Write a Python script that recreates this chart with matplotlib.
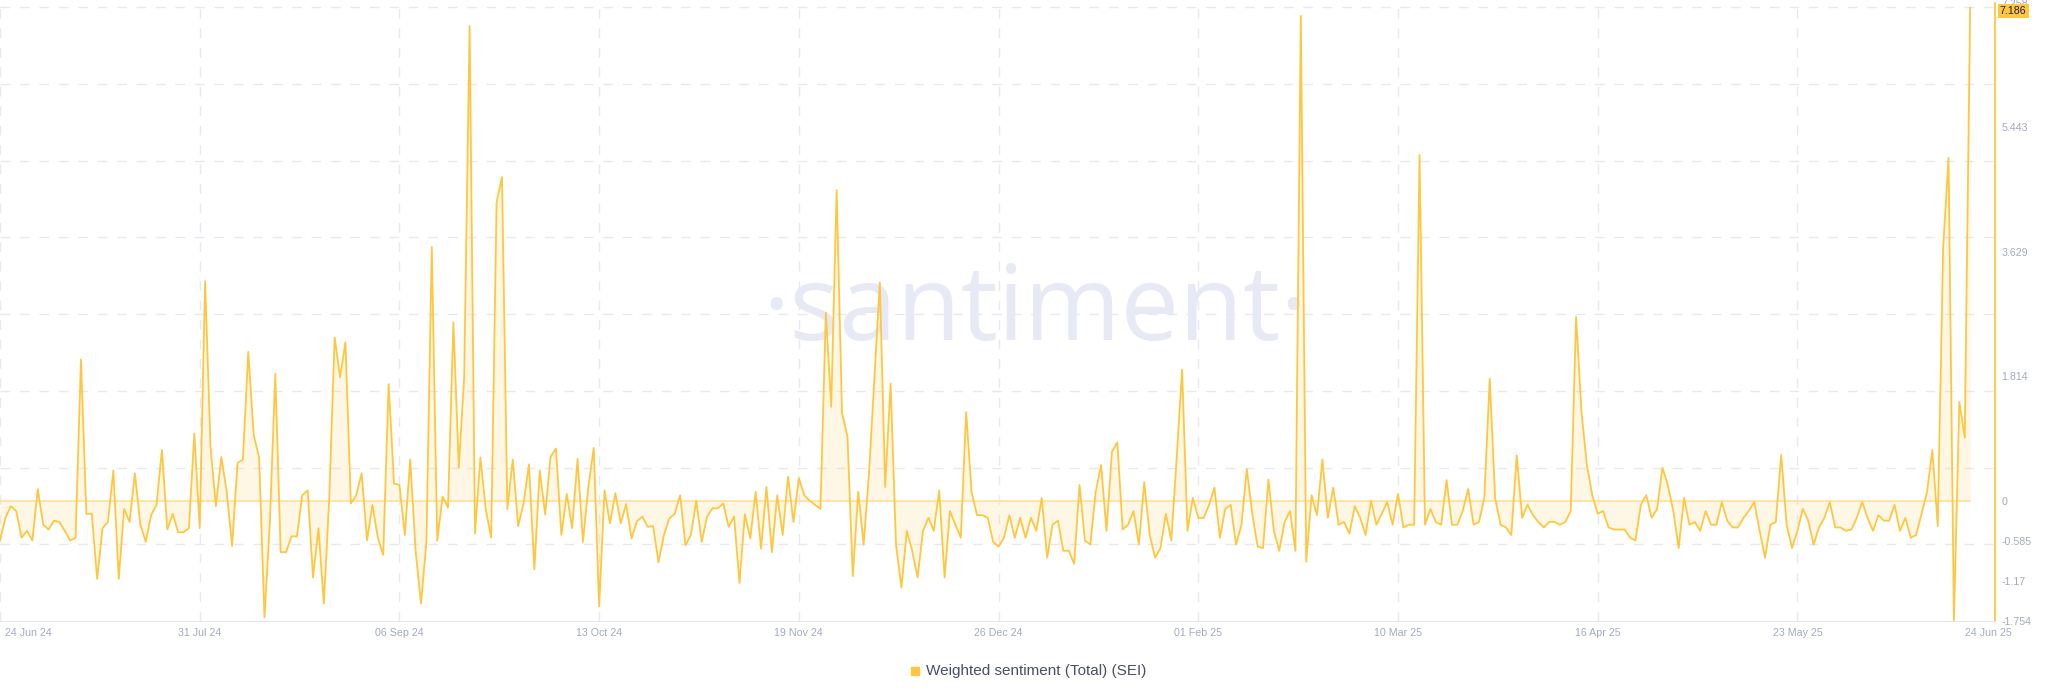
import matplotlib
matplotlib.use("Agg")
import matplotlib.pyplot as plt
import matplotlib.transforms as mtrans
from matplotlib.patches import Rectangle
import numpy as np
import pandas as pd

plt.rcParams["font.family"] = ["Liberation Sans", "DejaVu Sans"]
plt.rcParams["lines.scale_dashes"] = False

# daily weighted sentiment, 24 Jun 24 .. 24 Jun 25
start = "2024-06-24"
jun_jul_24 = [-0.58, -0.25, -0.08, -0.15, -0.54, -0.44, -0.58, 0.17, -0.35, -0.42,
              -0.29, -0.31, -0.44, -0.58, -0.54,
              2.06, -0.19, -0.19, -1.14, -0.40, -0.31, 0.44, -1.14, -0.12, -0.31,
              0.40, -0.35, -0.60, -0.21, -0.06, 0.74, -0.42, -0.19, -0.46, -0.46,
              -0.40, 0.98, -0.40]
aug_24 = [3.20, 0.79, -0.08, 0.64, 0.13, -0.66, 0.55, 0.60, 2.17, 0.96, 0.63, -1.70,
          -0.31, 1.85,
          -0.75, -0.75, -0.52, -0.52, 0.08, 0.15, -1.12, -0.40, -1.50, 0.04, 2.38,
          1.80, 2.31]
sep_24 = [-0.04, 0.08, 0.40, -0.58, -0.06, -0.54, -0.79, 1.70, 0.25, 0.23, -0.50,
          0.60, -0.73, -1.50, -0.60, 3.70, -0.58, 0.06, -0.10, 2.60, 0.48, 1.81,
          6.92, -0.48, 0.63, -0.13, -0.54, 4.35, 4.72]
oct_24 = [-0.12, 0.60, -0.37, -0.04, 0.53, -1.00, 0.44, -0.20, 0.64, 0.76, -0.50,
          0.10, -0.40, 0.61, -0.60, 0.20, 0.77, -1.54]
nov_24 = [0.15, -0.33, 0.11, -0.33, -0.05, -0.55, -0.30, -0.23, -0.38, -0.37, -0.90,
          -0.50, -0.26, -0.19, 0.08, -0.65, -0.50, 0.00, -0.60, -0.23, -0.11, -0.11,
          -0.04, -0.38, -0.23, -1.20, -0.20, -0.55, 0.13, -0.70, 0.20, -0.75, 0.08,
          -0.50, 0.35, -0.31, 0.33, 0.08, 0.00, -0.06, -0.12]
dec_24 = [2.74, 1.37, 4.53, 1.28, 0.94, -1.10, 0.13, -0.64, 0.40, 1.80, 3.18, 0.20,
          1.71, -0.64, -1.27, -0.44, -0.73, -1.12, -0.44, -0.25, -0.44, 0.15, -1.12,
          -0.15, -0.35, -0.54, 1.29]
jan_25 = [0.13, -0.21, -0.21, -0.25, -0.60, -0.67, -0.54, -0.21, -0.54, -0.25, -0.54,
          -0.25, -0.44, 0.04, -0.83, -0.35, -0.29, -0.73, -0.73, -0.92, 0.23, -0.58,
          -0.64, 0.13, 0.52, -0.44, 0.71, 0.85, -0.42, -0.35, -0.15, -0.64, 0.27,
          -0.50, -0.83, -0.69, -0.19, -0.58, 0.62, 1.91]
feb_25 = [-0.44, 0.04, -0.25, -0.25, -0.06, 0.19, -0.54, -0.12, -0.06, -0.64, -0.35,
          0.46, -0.19, -0.67, -0.69, 0.31, -0.44, -0.73, -0.31, -0.15, -0.73, 7.07]
mar_25 = [-0.89, 0.08, -0.21, 0.60, -0.25, 0.19, -0.35, -0.31, -0.48, -0.08, -0.25,
          -0.50, 0.00, -0.35, -0.19, -0.02, -0.35, 0.10, -0.39, -0.35, -0.35, 5.04]
apr_25 = [-0.35, -0.12, -0.31, -0.35, 0.30, -0.35, -0.35, -0.15, 0.17, -0.35, -0.31,
          0.04, 1.78,
          0.04, -0.35, -0.39, -0.50, 0.66, -0.25, -0.06, -0.21, -0.31, -0.39, -0.31,
          -0.31, -0.35, -0.31, -0.15, 2.68]
may_25 = [1.29, 0.52, 0.08, -0.19, -0.15, -0.39, -0.42, -0.42, -0.42, -0.54, -0.58,
          -0.06, 0.08, -0.25, -0.12, 0.48, 0.23, -0.15, -0.69, 0.04, -0.35, -0.31,
          -0.44, -0.15, -0.35, -0.35, -0.02, -0.29, -0.39, -0.39, -0.25, -0.15, -0.02,
          -0.44, -0.83, -0.35, -0.31, 0.67]
jun_25 = [-0.35, -0.69, -0.44, -0.12, -0.29, -0.64, -0.39, -0.25, -0.02, -0.39, -0.39,
          -0.44, -0.42, -0.25, -0.02, -0.25, -0.44, -0.21, -0.29, -0.29, -0.06, -0.44,
          -0.25, -0.54, -0.50, -0.19, 0.12,
          0.74, -0.37, 3.68, 5.00, -1.75, 1.44, 0.92, 7.186]

values = np.array(jun_jul_24 + aug_24 + sep_24 + oct_24 + nov_24 + dec_24 + jan_25
                  + feb_25 + mar_25 + apr_25 + may_25 + jun_25)
dates = pd.date_range(start, periods=len(values), freq="D")

tick_dates = pd.date_range(start, periods=10, freq="37D")
y_ticks = [-1.754, -1.17, -0.585, 0, 1.814, 3.629, 5.443, 7.258]
y_labels = ["-1.754", "-1.17", "-0.585", "0", "1.814", "3.629", "5.443", "7.258"]
last_value = "7.186"
last_date = "24 Jun 25"
legend_label = "Weighted sentiment (Total) (SEI)"

yc = "#ffc740"
grid_c = "#e7e9f2"
tick_c = "#a3aac1"

fig = plt.figure(figsize=(20.48, 6.93), dpi=100)
ax = fig.add_axes([0, 0.1039, 0.9741, 0.8918])

ymin, ymax = -1.754, 7.258
ax.set_ylim(ymin, ymax)
ax.set_xlim(dates[0], dates[0] + pd.Timedelta(days=369.6))

# horizontal grid: 8 even rows
for k in range(1, 9):
    ax.axhline(ymin + k * 0.993 / 8 * (ymax - ymin), color=grid_c, lw=1,
               linestyle=(0, (7, 7)), zorder=0)
ax.set_xticks(tick_dates)
ax.set_xticklabels([d.strftime("%d %b %y") for d in tick_dates])
ax.grid(axis="x", color=grid_c, lw=1, linestyle=(0, (7, 7)), zorder=0)

# watermark
ax.text(0.519, 0.4547, "\u00b7santiment\u00b7", transform=ax.transAxes, ha="center",
        va="baseline", fontsize=75, color="#e7eaf4", family="Open Sans",
        fontweight="normal", zorder=0.5)

ax.fill_between(dates, values, 0, color=yc, alpha=0.13, lw=0, zorder=2)
ax.plot([dates[0], dates[-1]], [0, 0], color="#ffe09a", lw=1.2, zorder=2)
ax.plot(dates, values, color=yc, lw=1.3, zorder=3)

for s in ["top", "left"]:
    ax.spines[s].set_visible(False)
ax.spines["right"].set_color(yc)
ax.spines["right"].set_linewidth(1.3)
ax.spines["bottom"].set_color("#e3e6ee")

ax.yaxis.tick_right()
ax.set_yticks(y_ticks)
ax.set_yticklabels(y_labels)
ax.tick_params(axis="y", length=0, pad=4.5, labelsize=7.7, colors=tick_c)
ax.tick_params(axis="x", length=0, pad=5, labelsize=7.7, colors=tick_c)

first = ax.get_xticklabels()[0]
first.set_horizontalalignment("left")
first.set_transform(first.get_transform()
                    + mtrans.ScaledTranslation(5 / 100, 0, fig.dpi_scale_trans))

ax.annotate(last_date, xy=(1, 0), xycoords="axes fraction", xytext=(17, -7),
            textcoords="offset pixels", ha="right", va="top", fontsize=7.7,
            color=tick_c, annotation_clip=False)

badge = ax.text(1.0, 7.186, last_value, ha="left", va="center", fontsize=7.7,
                color="#1b1e2c", zorder=6, clip_on=False,
                bbox=dict(boxstyle="square,pad=0.2", fc=yc, ec="none"))
badge.set_transform(ax.get_yaxis_transform()
                    + mtrans.ScaledTranslation(5 / 100, -3 / 100, fig.dpi_scale_trans))

fig.add_artist(Rectangle((911 / 2048, 1 - 675 / 693), 8 / 2048, 8 / 693,
                         transform=fig.transFigure, color=yc))
fig.text(926 / 2048, 1 - 671 / 693, legend_label, ha="left", va="center",
         fontsize=11, color="#4a4f62")

fig.savefig("out.png", dpi=100, facecolor="white")
